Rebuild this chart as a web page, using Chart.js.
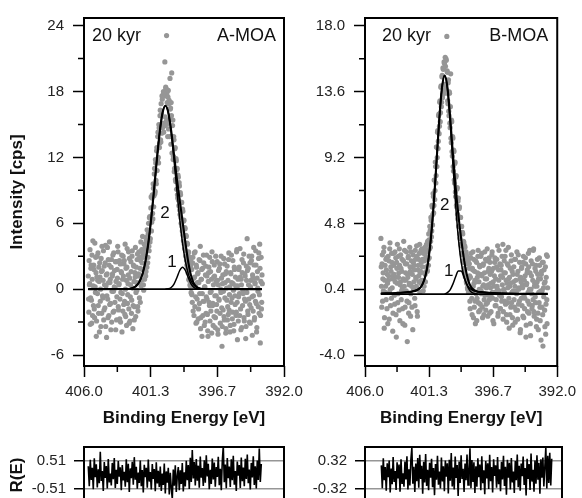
<!DOCTYPE html>
<html>
<head>
<meta charset="utf-8">
<script src="https://cdn.jsdelivr.net/npm/chart.js@4.4.1/dist/chart.umd.min.js"></script>
<style>
  html, body { margin: 0; padding: 0; background: #fff; }
  #wrap { position: relative; width: 582px; height: 498px; overflow: hidden; background: #fff; }
  canvas { position: absolute; }
</style>
</head>
<body>
<div id="wrap">
  <canvas id="mainA" width="310" height="432" style="left:0;top:0"></canvas>
  <canvas id="mainB" width="272" height="432" style="left:310px;top:0"></canvas>
  <canvas id="resA" width="310" height="90" style="left:0;top:430px"></canvas>
  <canvas id="resB" width="272" height="90" style="left:310px;top:430px"></canvas>
</div>
<script>
// spectra: two interleaved passes, each sampled every 0.04 eV from high to low binding energy
const stepE = 0.04;
const aStartE = 405.70;
const aStartMidE = 405.68;
const bStartE = 404.84;
const bStartMidE = 404.82;

const aCounts = [
  1.2, -2.1, 0.4, 3.6, -0.8, 2.2, -3.1, 0.9, 4.4, -1.5, 1.8, -2.6,
  0.2, 2.9, -4.3, 1.1, -0.4, 3.3, -2.2, 0.7, 2.4, -1.1, -3.4, 1.6,
  3.9, -0.6, 0.8, -2.8, 2.1, -1.7, 4.0, 0.3, -4.4, 1.4, -0.9, 2.7,
  -2.4, 4.3, 0.6, -1.3, 2.0, -3.0, 1.2, 3.1, -0.2, -2.0, 1.7, 0.1,
  -3.7, 2.5, -0.7, 1.0, 3.4, -1.9, 0.5, -2.7, 2.3, -0.3, 1.5, -3.9,
  0.9, 3.0, -1.4, 2.6, -2.3, 0.0, 1.9, -3.3, 3.7, -0.5, 1.3, -1.8,
  2.8, -2.9, 0.4, 1.6, -1.0, 3.5, -3.6, 2.2, 0.7, -1.6, 1.1, -2.5,
  2.0, -0.1, 3.2, -2.0, 1.4, 0.6, 2.9, -1.2, 4.3, 0.8, 2.4, 4.8,
  2.9, -0.1, 4.1, 1.4, 4.1, 1.6, 3.5, 5.4, 2.4, 5.1,
  3.9, 6.5, 4.3, 6.5, 8.4, 6.1, 8.6, 6.4, 9.2, 8.5,
  11.0, 8.9, 11.5, 9.6, 12.9, 11.7, 14.3, 11.5, 14.7, 13.3,
  16.3, 13.4, 15.9, 17.6, 14.7, 17.7, 14.3, 17.9, 20.7, 14.9,
  18.3, 23.1, 17.0, 13.9, 18.1, 16.9, 15.5, 19.2, 16.5, 17.0,
  19.7, 13.9, 15.4, 12.1, 13.6, 11.0, 12.9, 9.8, 11.7, 10.9,
  8.6, 10.4, 8.1, 9.7, 7.2, 8.8, 6.5, 7.9, 5.7, 7.3,
  4.9, 6.2, 4.1, 5.6, 3.5, 4.9, 2.6, 4.2, 1.9, 3.3,
  0.9, 2.9, 0.4, 2.6, -0.3,
  1.8, -1.2, 2.9, 0.3, -2.4, 1.1, 3.4, -0.7, 2.2, -3.0, 0.6, 1.5,
  -1.8, 2.7, -0.4, 3.9, -2.6, 0.9, -4.3, 1.9, -1.1, 2.4, -3.3, 0.2,
  1.3, -2.2, 3.1, -0.9, -3.8, 0.7, 2.0, -1.5, -2.9, 1.6, -0.2, -4.0,
  2.5, -1.3, 0.4, -2.5, 1.2, -3.5, 3.0, -0.6, -2.0, 0.8, -4.1, 1.7,
  -1.0, 2.3, -3.1, -0.3, 1.0, -5.2, 0.5, -1.9, 2.8, -2.8, -0.8, 1.4,
  -3.6, 0.1, 2.1, -1.6, -2.3, 3.3, -0.5, -3.9, 1.5, -1.2, 0.6, -2.7,
  2.6, -0.1, -3.2, 1.8, -1.4, 0.3, -2.1, 3.6, -4.6, 0.9, -0.7, 2.0,
  -2.4, 1.1, -3.7, 0.4, 2.7, -1.5, -0.4, 3.2, -2.9, 1.4, -1.1, -3.4,
  0.8, 4.6, -2.0, 1.9, -0.9, -3.0, 2.4, 0.2, -1.7, 3.0, -4.2, 1.0,
  -0.6, 2.2, -2.6, 0.5, 3.5, -1.3, -3.5, 1.6, -0.2, 2.8, -2.2, 4.1,
  -4.9, 0.7, -1.8, 1.3
];
const aCountsMid = [
  -0.9, 2.6, 0.5, -3.2, 1.9, -1.0, 3.1, -2.4, 0.3, 2.2, -1.8, 4.2,
  -0.3, 1.5, -2.9, 3.0, 0.8, -1.5, 2.0, -3.9, 1.1, 0.0, 2.8, -2.2,
  1.7, -0.8, 3.5, -1.9, 0.4, 2.4, -3.4, 1.3, -0.6, 3.8, -2.6, 0.6,
  2.2, -1.4, 0.9, -3.7, 2.7, -0.2, 1.4, -2.1, 3.3, 0.2, -1.2, 2.5,
  0.7, -2.8, 1.8, 3.9, -1.6, 0.4, 2.6, -0.9, -3.0, 1.6, 3.1, -0.4,
  -2.0, 1.2, 2.3, -1.1, 4.1, -2.5, 0.8, 2.0, -1.3, 0.5, 3.4, -3.1,
  1.0, -0.7, 2.5, -2.2, 3.0, 0.1, -1.5, 2.1, -2.8, 1.5, 3.8, -0.3,
  0.6, 2.7, -1.6, 1.2, 3.4, -0.8, 1.9, 2.6, 0.3, 3.6, 1.8, 3.2,
  0.4, 3.3, 0.9, 3.8, 1.2, 4.5, 2.0, 4.8, 2.9, 6.0,
  3.5, 6.6, 4.6, 7.4, 5.3, 8.3, 6.9, 9.6, 7.5, 10.5,
  8.7, 11.8, 9.9, 12.6, 10.8, 13.9, 12.0, 15.0, 12.9, 15.8,
  13.6, 16.9, 14.2, 17.3, 15.1, 18.0, 15.0, 17.6, 15.7, 18.4,
  15.3, 17.8, 15.1, 17.5, 14.6, 17.2, 13.9, 16.4, 13.2, 15.8,
  12.4, 14.9, 11.8, 13.9, 10.7, 12.8, 10.0, 11.9, 9.1, 11.0,
  8.3, 10.2, 7.6, 9.4, 6.8, 8.6, 6.0, 7.9, 5.3, 7.1,
  4.4, 6.3, 3.7, 5.5, 3.0, 4.8, 2.2, 4.1, 1.5, 3.4,
  0.8, 2.9, 0.3, 2.2, -0.4,
  -0.5, 2.4, -2.0, 1.0, 3.3, -1.6, 0.3, -3.1, 2.0, -0.9, 1.4, -2.7,
  0.6, -1.3, 2.6, -3.6, 0.9, 1.8, -0.4, -2.4, 3.1, -1.1, 0.2, -3.0,
  2.1, -0.7, 1.2, -2.3, -4.3, 1.5, -1.2, 2.9, -0.3, -2.0, 0.9, 3.4,
  -1.5, -3.3, 1.1, 2.2, -0.6, -2.6, 0.7, -1.4, 2.5, -3.7, 0.4, -0.9,
  1.9, -2.2, 0.0, 3.0, -1.7, -3.4, 1.3, -0.2, -2.5, 2.3, 0.6, -4.0,
  1.6, -1.0, -2.8, 0.8, 2.7, -1.9, 0.2, -3.3, 1.4, 3.1, -0.8, -2.1,
  0.5, -3.8, 2.0, -0.6, 1.1, -2.4, 3.4, -1.2, 0.3, -2.9, 1.8, -0.4,
  3.7, -1.8, 0.9, -3.5, 1.5, -0.1, 2.4, -2.6, -0.9, 1.2, -4.5, 2.1,
  -0.3, 1.7, -2.3, 0.4, 3.0, -1.4, -3.1, 0.8, 2.6, -0.7, 1.3, -2.0,
  3.8, -2.8, 0.6, -1.1, 2.2, -3.9, 1.0, 0.1, -1.6, 3.3, -0.5, 1.9,
  -2.4, 2.9, -1.2, 0.5
];

const bCounts = [
  3.8, 0.6, 2.1, -0.4, 1.5, 2.9, -2.2, 1.0, 0.2, 2.4, 1.7, -0.9,
  0.8, 2.6, 1.3, -1.6, 3.1, 0.4, 1.9, -0.2, 2.2, 1.1, -1.2, 2.8,
  1.4, -0.6, 0.9, 2.5, -2.8, 1.8, 3.4, 0.1, 1.2, -1.0, 2.0, 0.7,
  2.7, -0.3, 1.6, 0.5, -1.9, 2.3, 1.0, 3.0, -0.8, 1.5, 0.3, 2.1,
  -3.1, 1.2, 2.6, -0.5, 0.8, 1.9, -1.4, 2.9, 0.6, 1.4, -2.3, 2.2,
  0.9, 1.7, -0.7, 2.4, 1.1, 3.3, -1.1, 0.4, 2.0, 1.3, 2.8, 0.2,
  1.6, 3.0, 1.0, 2.3,
  2.4, 0.3, 2.9, 1.5, 3.2, 0.9, 2.6, 3.4, 1.7, 3.6,
  2.4, 4.1, 2.5, 4.6, 3.2, 5.2, 3.9, 6.0, 4.7, 6.8,
  5.5, 7.7, 6.4, 8.9, 7.5, 9.9, 8.6, 10.9, 9.8, 12.0,
  10.8, 12.9, 11.6, 13.9, 12.6, 14.6, 13.2, 15.2, 13.6, 15.6,
  14.1, 15.9, 13.8, 15.7, 17.3, 14.9, 12.8, 14.4, 12.0, 13.5,
  11.2, 14.8, 10.2, 11.6, 9.3, 10.5, 8.3, 9.6, 7.5, 8.9,
  6.6, 8.0, 5.9, 7.2, 5.1, 6.5, 4.6, 5.9, 3.8, 5.2,
  3.3, 4.6, 2.7, 4.1, 2.2, 3.5, 1.6, 3.2, 1.2, 2.9,
  0.8, 2.6, 0.4, 2.3, 1.1,
  2.1, -0.4, 1.2, 2.8, 0.3, -1.3, 1.7, 0.6, 2.4, -0.8, 1.0, -1.9,
  0.9, 2.2, -0.2, 1.5, 3.0, -1.1, 0.4, 1.9, -0.6, 2.6, 0.1, 1.3,
  -1.5, 2.0, 0.7, -0.3, 2.9, 1.1, -1.0, 0.5, 2.3, -0.5, 1.6, 0.0,
  2.5, -1.2, 1.4, 0.8, -0.1, 2.7, 0.2, -1.7, 1.8, 0.6, 2.2, -0.7,
  1.1, -0.3, 2.4, 0.4, -1.4, 1.7, 3.0, 0.0, -0.9, 1.3, 2.0, -0.4,
  0.7, 3.4, -1.1, 1.5, 0.2, 2.6, -0.6, 1.0, -1.8, 2.1, 0.5, 3.2,
  -0.2, 1.2, -1.3, 0.8, 2.3, -0.5, 1.6, -2.0, 0.3, 1.9, -0.8, 0.6,
  2.4, -1.0, 0.1, 1.4, -1.6, 2.7, 0.4, -0.4, 1.1, -2.3, 0.9, 1.8,
  -0.7, 0.5, 2.2, -1.5, 1.0, -0.2, 2.5, -2.8, 0.7, 1.5, -1.1, 0.2,
  1.9, -0.6, 3.0, -1.9, 0.4, 1.3, -0.9, 2.1, -0.3, 3.1, -1.4, 0.8,
  -0.1, 1.6, -2.1, 0.6, 2.4, -1.2, 1.1, -0.5, 2.0, -1.7, 0.3, 1.4,
  -0.8, 2.2, -3.4, 0.5, 1.7, -1.0, 0.9, -2.6, 1.2, -0.3, 2.6
];
const bCountsMid = [
  1.9, -0.8, 2.7, 1.1, 0.3, 3.2, -1.5, 2.0, 0.6, -0.3, 2.5, 1.4,
  -1.9, 1.0, 2.3, 0.2, 3.5, -0.7, 1.6, 2.8, 0.5, -2.4, 1.3, 2.0,
  0.0, 2.9, 1.2, -1.3, 2.2, 0.8, -0.5, 2.6, 1.5, 3.1, -1.7, 0.9,
  1.8, 0.3, 2.4, -0.9, 1.1, 3.6, 0.6, -2.0, 2.1, 1.0, 2.9, -0.4,
  1.4, 2.5, -1.2, 0.7, 3.2, 1.6, 0.1, 2.3, -0.8, 1.9, 2.7, 0.4,
  2.0, -0.2, 3.0, 1.2, 0.6, 2.6, -1.4, 1.7, 2.4, 0.9, 3.4, 1.5,
  0.8, 2.2, 3.1, 1.9,
  1.0, 2.8, 0.6, 2.3, 1.4, 3.0, 1.9, 2.9, 1.6, 3.4,
  2.0, 3.7, 3.1, 4.3, 3.6, 5.0, 4.3, 5.9, 5.4, 6.6,
  6.0, 7.7, 7.0, 8.6, 8.0, 9.9, 9.2, 11.0, 10.3, 12.1,
  11.3, 13.0, 12.2, 14.0, 12.9, 14.7, 13.4, 15.1, 13.9, 15.5,
  13.8, 15.3, 15.8, 13.5, 15.0, 13.0, 14.2, 12.3, 13.6, 11.5,
  12.6, 10.5, 11.7, 9.6, 10.6, 8.6, 9.7, 7.7, 8.8, 6.9,
  7.9, 6.0, 7.1, 5.4, 6.3, 4.6, 5.8, 4.1, 5.2, 3.4,
  4.6, 2.8, 4.2, 2.3, 3.6, 1.8, 3.3, 1.3, 2.8, 0.9,
  2.5, 0.5, 2.1, 0.2, 1.8,
  1.3, -0.9, 2.5, 0.4, -0.2, 1.8, 2.9, -1.5, 0.8, 1.6, -0.4, 2.3,
  0.1, -1.7, 1.2, 2.6, -0.5, 0.9, 2.0, -1.0, 1.4, 0.3, 2.8, -0.8,
  0.6, 2.1, -1.3, 1.5, 0.0, 2.4, -0.6, 1.1, 3.1, -1.4, 0.7, 1.8,
  -0.3, 2.2, 0.5, -1.1, 1.6, 2.9, -0.2, 0.9, -1.9, 1.3, 2.5, 0.2,
  -0.7, 1.9, 0.6, 3.3, -1.2, 1.0, 0.3, 2.1, -0.9, 1.7, -0.1, 2.6,
  1.2, -1.6, 0.4, 2.3, -0.4, 1.5, 3.0, -1.3, 0.8, -0.5, 2.0, 1.1,
  -2.2, 0.6, 1.8, -0.8, 2.7, 0.2, -1.5, 1.4, 0.9, -0.3, 2.4, -1.8,
  1.0, 0.3, 2.9, -1.0, 1.6, -0.6, 0.5, 2.2, -2.5, 1.2, -0.2, 1.9,
  0.7, -1.4, 2.6, 0.0, -0.9, 1.3, 2.1, -2.0, 0.8, 1.7, -0.4, 2.8,
  -1.2, 0.4, 1.5, -2.7, 2.3, 0.1, -0.7, 1.0, 3.0, -1.1, 0.6, 1.8,
  -0.5, 2.0, -1.6, 0.9, 1.4, -2.3, 0.2, 2.5, -0.8, 1.1, -3.0, 1.6,
  0.3, -1.3, 2.2, -0.1, 0.8, -2.1, 1.9, -0.6, 2.7, -1.9, 0.5
];

// fitted curves
const aFitE = [405.70, 403.1, 402.9, 402.7, 402.5, 402.3, 402.1, 401.9, 401.7, 401.5, 401.3,
  401.1, 400.9, 400.7, 400.5, 400.3, 400.1, 399.9, 399.7, 399.5, 399.3, 399.1, 398.9,
  398.7, 398.5, 398.3, 398.1, 397.9, 397.7, 397.5, 393.55];
const aEnvelope = [0, 0.01, 0.02, 0.06, 0.16, 0.35, 0.73, 1.41, 2.52, 4.16, 6.37,
  9.0, 11.8, 14.31, 16.07, 16.71, 16.10, 14.46, 12.26, 10.04, 8.07, 6.16, 4.22,
  2.45, 1.19, 0.50, 0.19, 0.07, 0.02, 0.01, 0];
const aPeak2 = [0, 0.01, 0.02, 0.06, 0.16, 0.35, 0.73, 1.41, 2.52, 4.16, 6.37,
  9.0, 11.8, 14.31, 16.07, 16.7, 16.07, 14.31, 11.8, 9.0, 6.37, 4.16, 2.52,
  1.41, 0.73, 0.35, 0.16, 0.06, 0.02, 0.01, 0];
const aPeak1E = [400.3, 400.1, 399.9, 399.7, 399.5, 399.3, 399.1, 398.9, 398.7, 398.5, 398.3, 398.1, 397.9];
const aPeak1 = [0.01, 0.03, 0.15, 0.46, 1.04, 1.70, 2.0, 1.70, 1.04, 0.46, 0.15, 0.03, 0.01];
const aBaseE = [405.70, 393.55];
const aBase = [0, 0];

const bFitE = [404.85, 403.7, 403.0, 402.6, 402.2, 402.0, 401.8, 401.6, 401.4, 401.2,
  401.0, 400.8, 400.6, 400.4, 400.2, 400.0, 399.8, 399.6, 399.4, 399.2, 399.0, 398.8,
  398.6, 398.4, 398.2, 397.8, 397.4, 396.7, 395.7, 392.7];
const bEnvelope = [0.12, 0.15, 0.20, 0.24, 0.35, 0.48, 0.76, 1.29, 2.25, 3.82,
  6.05, 8.80, 11.62, 13.82, 14.68, 13.92, 11.91, 9.47, 7.22, 5.37, 3.80, 2.46,
  1.43, 0.77, 0.45, 0.24, 0.20, 0.15, 0.12, 0.09];
const bPeak2 = [0.12, 0.15, 0.20, 0.24, 0.35, 0.48, 0.76, 1.29, 2.25, 3.82,
  6.05, 8.80, 11.62, 13.82, 14.67, 13.82, 11.62, 8.80, 6.05, 3.82, 2.25, 1.29,
  0.76, 0.48, 0.35, 0.24, 0.20, 0.15, 0.12, 0.09];
const bPeak1E = [400.2, 400.0, 399.8, 399.6, 399.4, 399.2, 399.0, 398.8, 398.6, 398.4, 398.2, 397.8];
const bPeak1 = [0.08, 0.17, 0.36, 0.74, 1.24, 1.62, 1.62, 1.24, 0.74, 0.36, 0.17, 0.07];
const bBaseE = [404.85, 392.7];
const bBase = [0.07, 0.07];

// residuals R(E), every 0.07 eV
const resStep = 0.07;
const aResid = [
  0.32, -0.41, 0.55, -0.18, 0.26, -0.52, 0.61, -0.08, 0.39, -0.45, 0.21, -0.30,
  0.85, -0.22, 0.14, -0.58, 0.47, -0.11, 0.33, -0.49, 0.58, -0.27, 0.05, -0.38,
  0.44, -0.15, 0.62, -0.47, 0.19, -0.33, 0.51, -0.06, 0.28, -0.55, 0.36, -0.20,
  0.12, -0.43, 0.57, -0.26, 0.41, -0.62, 0.24, -0.12, 0.48, -0.35, 0.65, -0.17,
  0.30, -0.50, 0.09, -0.29, 0.53, -0.41, 0.18, -0.64, 0.37, -0.08, 0.26, -0.46,
  0.56, -0.24, 0.11, -0.53, 0.40, -0.14, 0.22, -0.59, 0.46, -0.31, 0.15, -0.44,
  0.31, -0.58, 0.05, -0.36, 0.42, -0.67, 0.13, -0.28, 0.26, -0.71, 0.08, -0.48,
  -0.87, 0.20, -0.39, 0.35, -0.62, -0.04, 0.29, -0.55, 0.17, -0.33, 0.44, -0.60,
  0.10, -0.42, 0.52, -0.19, 0.36, -0.51, 0.63, -0.25, 0.91, -0.13, 0.47, -0.38,
  0.58, -0.21, 0.34, -0.46, 0.67, -0.10, 0.25, -0.40, 0.54, -0.28, 0.72, -0.05,
  0.41, -0.52, 0.19, -0.33, 0.60, -0.16, 0.45, -0.43, 0.29, -0.07, 0.66, -0.37,
  0.23, -0.55, 0.50, 1.05, -0.26, 0.38, -0.48, 0.62, -0.12, 0.31, -0.44, 0.57,
  -0.19, 0.70, -0.35, 0.14, -0.58, 0.49, -0.02, 0.36, -0.47, 0.64, -0.23, 0.27,
  -0.41, 0.59, -0.14, 0.75, -0.30, 0.20, -0.53, 0.44, -0.09, 0.68, -0.36, 0.32,
  -0.49, 0.53, -0.18, 0.96, -0.25, 0.40
];
const bResid = [
  0.22, -0.30, 0.38, -0.12, 0.18, -0.36, 0.27, -0.05, 0.33, -0.40, 0.15, -0.21,
  0.41, -0.16, 0.09, -0.34, 0.29, -0.08, 0.24, -0.38, 0.36, -0.19, 0.04, -0.27,
  0.31, -0.10, 0.43, -0.33, 0.13, -0.24, 0.35, 0.62, -0.20, 0.19, -0.39, 0.26,
  -0.14, 0.39, -0.29, 0.46, -0.09, 0.21, -0.43, 0.30, -0.17, 0.48, -0.25, 0.12,
  -0.35, 0.28, -0.06, 0.37, -0.28, 0.16, -0.46, 0.25, -0.11, 0.44, -0.22, 0.08,
  -0.31, 0.40, -0.15, 0.20, -0.37, 0.33, -0.04, 0.27, -0.42, 0.35, -0.13, 0.50,
  -0.26, 0.17, -0.33, 0.42, -0.07, 0.23, -0.48, 0.31, -0.18, 0.45, -0.09, 0.14,
  -0.39, 0.26, -0.12, 0.47, -0.23, 0.10, 0.61, -0.30, 0.34, -0.16, 0.29, -0.41,
  0.20, -0.27, 0.38, -0.05, 0.24, -0.35, 0.43, -0.19, 0.11, -0.44, 0.32, -0.08,
  0.27, -0.32, 0.46, -0.14, 0.18, -0.40, 0.36, -0.02, 0.22, -0.29, 0.41, -0.21,
  0.13, -0.37, 0.30, -0.10, 0.44, -0.25, 0.19, -0.45, 0.35, -0.06, 0.28, -0.33,
  0.39, -0.17, 0.08, -0.41, 0.32, -0.12, 0.47, -0.28, 0.21, -0.36, 0.26, -0.03,
  0.42, -0.23, 0.16, -0.47, 0.37, -0.09, 0.25, -0.34, 0.49, -0.15, 0.12, -0.38,
  0.33, -0.20, 0.45, -0.11, 0.28, -0.43, 0.36, -0.06, 0.40, -0.26, 0.19, 0.63,
  -0.31, 0.44, -0.18, 0.51, -0.24, 0.37
];

// axis ticks
const xTicks = [406.0, 401.333, 396.667, 392.0];
const xTickLabels = ['406.0', '401.3', '396.7', '392.0'];
const xMinor = [403.667, 399.0, 394.333];
const aYTicks = [-6, 0, 6, 12, 18, 24];
const aYMinor = [-3, 3, 9, 15, 21];
const bYTicks = [-4.0, 0.4, 4.8, 9.2, 13.6, 18.0];
const bYMinor = [-1.8, 2.6, 7.0, 11.4, 15.8];
const aResTicks = [-0.51, 0.51];
const bResTicks = [-0.32, 0.32];

const FONT = "'Liberation Sans', Arial, Helvetica, sans-serif";
const POINT_GREY = 'rgb(150,150,150)';

function spectrum(start, step, ys) {
    return ys.map((y, i) => ({ x: start - i * step, y: y }));
}

function pairs(xs, ys) {
    return xs.map((x, i) => ({ x: x, y: ys[i] }));
}

// frame, minor ticks and text labels
const decorations = {
    id: 'decorations',
    afterDraw(chart, args, opts) {
        const { ctx, chartArea: a, scales } = chart;
        ctx.save();
        ctx.strokeStyle = '#000';
        ctx.lineWidth = 2;
        ctx.strokeRect(a.left, a.top, a.right - a.left, a.bottom - a.top);

        ctx.lineWidth = 1.5;
        ctx.beginPath();
        (opts.minorX || []).forEach(v => {
            const px = scales.x.getPixelForValue(v);
            ctx.moveTo(px, a.bottom);
            ctx.lineTo(px, a.bottom + 6);
        });
        (opts.minorY || []).forEach(v => {
            const py = scales.y.getPixelForValue(v);
            ctx.moveTo(a.left, py);
            ctx.lineTo(a.left - 6, py);
        });
        ctx.stroke();

        ctx.fillStyle = '#111';
        ctx.textBaseline = 'middle';
        (opts.notes || []).forEach(n => {
            ctx.font = (n.size || 18) + 'px ' + FONT;
            let px, py;
            if (n.corner === 'left') {
                ctx.textAlign = 'left';
                px = a.left + n.dx; py = a.top + n.dy;
            } else if (n.corner === 'right') {
                ctx.textAlign = 'right';
                px = a.right - n.dx; py = a.top + n.dy;
            } else {
                ctx.textAlign = 'center';
                px = scales.x.getPixelForValue(n.x);
                py = scales.y.getPixelForValue(n.y);
            }
            ctx.fillText(n.text, px, py);
        });
        ctx.restore();
    }
};

function lineSet(data, width) {
    return {
        data: data,
        showLine: true,
        borderColor: '#000',
        borderWidth: width,
        pointRadius: 0,
        fill: false,
        cubicInterpolationMode: 'monotone'
    };
}

function pointSet(data) {
    return {
        data: data,
        pointRadius: 2.6,
        pointBackgroundColor: POINT_GREY,
        pointBorderWidth: 0,
        showLine: false
    };
}

function makeMain(id, p) {
    const ctx = document.getElementById(id);
    return new Chart(ctx, {
        type: 'scatter',
        data: {
            datasets: [
                lineSet(pairs(p.fitE, p.envelope), 2.1),
                lineSet(pairs(p.fitE, p.peak2), 1.5),
                lineSet(pairs(p.peak1E, p.peak1), 1.5),
                lineSet(pairs(p.baseE, p.base), 1.8),
                pointSet(spectrum(p.startE, stepE, p.counts)),
                pointSet(spectrum(p.startMidE, stepE, p.countsMid))
            ]
        },
        options: {
            responsive: false,
            animation: false,
            devicePixelRatio: 1,
            layout: { autoPadding: false, padding: { left: 0, right: p.padRight, top: 15, bottom: 0 } },
            plugins: {
                legend: { display: false },
                tooltip: { enabled: false },
                decorations: { minorX: xMinor, minorY: p.yMinor, notes: p.notes }
            },
            scales: {
                x: {
                    type: 'linear',
                    reverse: true,
                    min: 392,
                    max: 406,
                    afterFit: s => { s.height = 66; },
                    afterBuildTicks: s => { s.ticks = xTicks.map(v => ({ value: v })); },
                    border: { display: false },
                    grid: { drawOnChartArea: false, tickLength: 11, tickColor: '#000', tickWidth: 1.5 },
                    ticks: {
                        padding: 6,
                        color: '#222',
                        font: { family: FONT, size: 15 },
                        maxRotation: 0,
                        callback: (v, i) => xTickLabels[i]
                    },
                    title: {
                        display: true,
                        text: 'Binding Energy [eV]',
                        color: '#111',
                        font: { family: FONT, size: 17, weight: 'bold' },
                        padding: { top: 0, bottom: 3 }
                    }
                },
                y: {
                    type: 'linear',
                    min: p.yMin,
                    max: p.yMax,
                    afterFit: s => { s.width = p.yWidth; },
                    afterBuildTicks: s => { s.ticks = p.yTicks.map(v => ({ value: v })); },
                    border: { display: false },
                    grid: { drawOnChartArea: false, tickLength: 11, tickColor: '#000', tickWidth: 1.5 },
                    ticks: {
                        padding: 9,
                        color: '#222',
                        font: { family: FONT, size: 15 },
                        callback: v => p.yDigits ? v.toFixed(p.yDigits) : String(v)
                    },
                    title: {
                        display: !!p.yTitle,
                        text: p.yTitle || '',
                        color: '#111',
                        font: { family: FONT, size: 17, weight: 'bold' },
                        padding: { top: 7, bottom: 0 }
                    }
                }
            }
        },
        plugins: [decorations]
    });
}

function makeResidual(id, p) {
    const ctx = document.getElementById(id);
    return new Chart(ctx, {
        type: 'scatter',
        data: {
            datasets: [{
                data: spectrum(p.startE, resStep, p.resid),
                showLine: true,
                borderColor: '#000',
                borderWidth: 1.6,
                pointRadius: 0,
                fill: false
            }]
        },
        options: {
            responsive: false,
            animation: false,
            devicePixelRatio: 1,
            layout: { autoPadding: false, padding: { left: 0, right: p.padRight, top: 13, bottom: 17 } },
            plugins: {
                legend: { display: false },
                tooltip: { enabled: false },
                decorations: {}
            },
            scales: {
                x: { type: 'linear', reverse: true, min: 392, max: 406, display: false },
                y: {
                    type: 'linear',
                    min: -p.range,
                    max: p.range,
                    afterFit: s => { s.width = p.yWidth; },
                    afterBuildTicks: s => { s.ticks = p.ticks.map(v => ({ value: v })); },
                    border: { display: false },
                    grid: { color: 'rgb(150,150,150)', lineWidth: 1.5, tickLength: 10, tickColor: '#000', tickWidth: 1.5 },
                    ticks: {
                        padding: 8,
                        color: '#222',
                        font: { family: FONT, size: 15 },
                        callback: v => v.toFixed(2)
                    },
                    title: {
                        display: !!p.yTitle,
                        text: p.yTitle || '',
                        color: '#111',
                        font: { family: FONT, size: 17, weight: 'bold' },
                        padding: { top: 7, bottom: 0 }
                    }
                }
            }
        },
        plugins: [decorations]
    });
}

makeMain('mainA', {
    startE: aStartE, counts: aCounts, startMidE: aStartMidE, countsMid: aCountsMid,
    fitE: aFitE, envelope: aEnvelope, peak2: aPeak2,
    peak1E: aPeak1E, peak1: aPeak1, baseE: aBaseE, base: aBase,
    yMin: -7, yMax: 24.7, yTicks: aYTicks, yMinor: aYMinor, yDigits: 0,
    yWidth: 84, padRight: 26, yTitle: 'Intensity [cps]',
    notes: [
        { text: '20 kyr', corner: 'left', dx: 8, dy: 18 },
        { text: 'A-MOA', corner: 'right', dx: 8, dy: 18 },
        { text: '2', x: 400.33, y: 6.95, size: 17 },
        { text: '1', x: 399.84, y: 2.44, size: 17 }
    ]
});

makeMain('mainB', {
    startE: bStartE, counts: bCounts, startMidE: bStartMidE, countsMid: bCountsMid,
    fitE: bFitE, envelope: bEnvelope, peak2: bPeak2,
    peak1E: bPeak1E, peak1: bPeak1, baseE: bBaseE, base: bBase,
    yMin: -4.73, yMax: 18.53, yTicks: bYTicks, yMinor: bYMinor, yDigits: 1,
    yWidth: 55, padRight: 20, yTitle: null,
    notes: [
        { text: '20 kyr', corner: 'left', dx: 17, dy: 18 },
        { text: 'B-MOA', corner: 'right', dx: 9, dy: 18 },
        { text: '2', x: 400.19, y: 6.03, size: 17 },
        { text: '1', x: 399.9, y: 1.59, size: 17 }
    ]
});

makeResidual('resA', { startE: aStartE, resid: aResid, range: 1.02, ticks: aResTicks, yWidth: 84, padRight: 26, yTitle: 'R(E)' });
makeResidual('resB', { startE: bStartE, resid: bResid, range: 0.64, ticks: bResTicks, yWidth: 55, padRight: 20, yTitle: null });
</script>
</body>
</html>
